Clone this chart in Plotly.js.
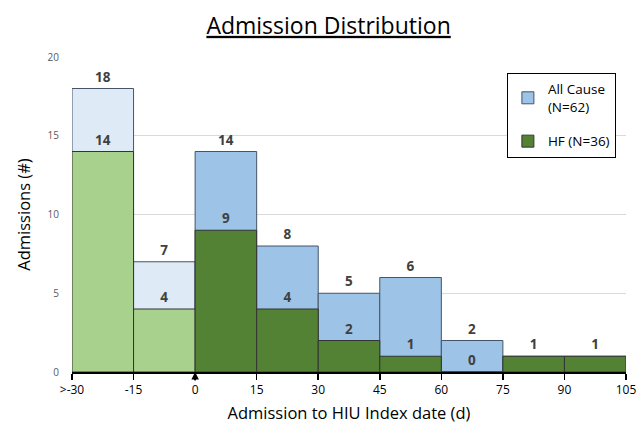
<!DOCTYPE html>
<html>
<head>
<meta charset="utf-8">
<script src="https://cdn.plot.ly/plotly-3.0.1.min.js"></script>
<style>html,body{margin:0;padding:0;background:#fff;}#chart{width:638px;height:430px;}</style>
</head>
<body>
<div id="chart"></div>
<script>
var binCenters = [-22.5, -7.5, 7.5, 22.5, 37.5, 52.5, 67.5, 82.5, 97.5];
var allCause = [18, 7, 14, 8, 5, 6, 2, 1, 1];
var hf = [14, 4, 9, 4, 2, 1, 0, 1, 1];
var tickVals = [-30, -15, 0, 15, 30, 45, 60, 75, 90, 105];
var tickLabels = ['>-30', '-15', '0', '15', '30', '45', '60', '75', '90', '105'];

var txtFont = {family: 'Open Sans, sans-serif', size: 13.5, color: '#404040', weight: 'bold'};

function pick(arr, pre) {
  return arr.filter(function (v, i) { return (binCenters[i] < 0) === pre; });
}
function makeTrace(values, texts, pre, color, lineColor, name, show, group) {
  return {
    type: 'bar', name: name, x: pick(binCenters, pre), y: pick(values, pre), width: 15,
    marker: {color: color, line: {color: lineColor, width: 1}},
    text: pick(texts, pre), textposition: 'outside', cliponaxis: false,
    textfont: txtFont, showlegend: show, legendgroup: group, hoverinfo: 'y'
  };
}
var allText = allCause.map(String);
var hfText = hf.map(function (v, i) { return v === allCause[i] ? '' : String(v); });

var traces = [
  makeTrace(allCause, allText, true, '#DEEBF7', '#44546A', 'All Cause pre', false, 'a'),
  makeTrace(allCause, allText, false, '#9DC3E6', '#44546A', 'All Cause<br>(N=62)', true, 'a'),
  makeTrace(hf, hfText, true, '#A9D18E', '#333333', 'HF pre', false, 'b'),
  makeTrace(hf, hfText, false, '#548235', '#333333', 'HF (N=36)', true, 'b')
];

var layout = {
  width: 638, height: 430,
  margin: {l: 72, r: 12, t: 57, b: 58},
  paper_bgcolor: '#fff', plot_bgcolor: '#fff',
  barmode: 'overlay',
  bargap: 0,
  font: {family: 'Open Sans, sans-serif', color: '#000'},
  title: {text: '<u>Admission Distribution</u>', x: 0.515, xanchor: 'center', y: 0.94, yanchor: 'middle',
          font: {size: 23, color: '#000', family: 'Open Sans, sans-serif'}},
  xaxis: {
    range: [-30, 105], tickmode: 'array', tickvals: tickVals, ticktext: tickLabels,
    showgrid: false, zeroline: false, showline: true, linecolor: '#000', linewidth: 1.5,
    ticks: 'outside', ticklen: 6, tickcolor: '#000', tickwidth: 1.5,
    tickfont: {size: 12, color: '#000'},
    title: {text: 'Admission to HIU Index date (d)', font: {size: 16.5, color: '#000'}, standoff: 10}
  },
  yaxis: {
    range: [0, 20], tickvals: [0, 5, 10, 15, 20],
    showgrid: true, gridcolor: '#D9D9D9', zeroline: false, showline: false,
    tickfont: {size: 10, color: '#595959'}, ticklabelstandoff: 12,
    title: {text: 'Admissions (#)', font: {size: 16.5, color: '#000'}, standoff: 12}
  },
  legend: {
    x: 0.785, y: 0.95, xanchor: 'left', yanchor: 'top',
    bgcolor: '#fff', bordercolor: '#000', borderwidth: 1,
    font: {size: 13.5, color: '#000'}, traceorder: 'grouped', tracegroupgap: 14,
    itemwidth: 30
  },
  annotations: [{
    x: 0, y: 0, xref: 'x', yref: 'y', ax: 0, ay: 10, showarrow: true,
    arrowhead: 2, arrowsize: 1, arrowwidth: 1.5, arrowcolor: '#000', text: ''
  }],
  showlegend: true
};

Plotly.newPlot('chart', traces, layout, {displayModeBar: false, staticPlot: true});
</script>
</body>
</html>
